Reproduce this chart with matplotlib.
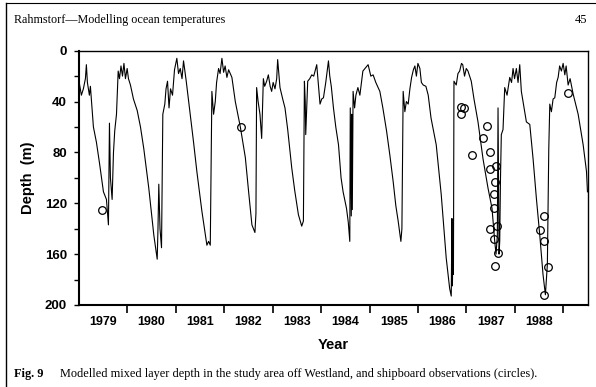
import numpy as np
import matplotlib.pyplot as plt
from matplotlib.lines import Line2D

# modelled mixed layer depth (year, depth in m)
years = [1979.00, 1979.015, 1979.056, 1979.097, 1979.139, 1979.159, 1979.180, 1979.221, 1979.242,
         1979.304, 1979.366, 1979.428, 1979.511, 1979.573, 1979.614, 1979.635, 1979.655, 1979.690,
         1979.718, 1979.744, 1979.780, 1979.815, 1979.842, 1979.873, 1979.904, 1979.934, 1979.965,
         1980.000, 1980.027, 1980.068, 1980.130, 1980.207, 1980.275, 1980.343, 1980.446, 1980.550,
         1980.620, 1980.636, 1980.653, 1980.678, 1980.709, 1980.736, 1980.777, 1980.802, 1980.833,
         1980.864, 1980.895, 1980.936, 1980.977, 1981.025, 1981.060, 1981.095, 1981.132, 1981.163,
         1981.219, 1981.302, 1981.370, 1981.438, 1981.541, 1981.645, 1981.680, 1981.715, 1981.748,
         1981.783, 1981.818, 1981.845, 1981.886, 1981.917, 1981.955, 1981.990, 1982.021, 1982.058,
         1982.093, 1982.161, 1982.231, 1982.335, 1982.438, 1982.506, 1982.574, 1982.636, 1982.657,
         1982.671, 1982.702, 1982.740, 1982.775, 1982.810, 1982.837, 1982.878, 1982.913, 1982.950,
         1982.981, 1983.012, 1983.050, 1983.085, 1983.105, 1983.153, 1983.209, 1983.256, 1983.312,
         1983.395, 1983.457, 1983.533, 1983.601, 1983.636, 1983.657, 1983.674, 1983.684, 1983.725,
         1983.767, 1983.808, 1983.849, 1983.911, 1983.942, 1983.979, 1984.014, 1984.050, 1984.097,
         1984.153, 1984.180, 1984.211, 1984.256, 1984.304, 1984.360, 1984.413, 1984.455, 1984.525,
         1984.562, 1984.593, 1984.603, 1984.624, 1984.634, 1984.645, 1984.661, 1984.692, 1984.719,
         1984.760, 1984.801, 1984.863, 1984.971, 1985.027, 1985.074, 1985.130, 1985.213, 1985.275,
         1985.351, 1985.419, 1985.488, 1985.543, 1985.591, 1985.647, 1985.668, 1985.694, 1985.729,
         1985.760, 1985.798, 1985.833, 1985.868, 1985.905, 1985.936, 1985.967, 1985.998, 1986.039,
         1986.070, 1986.108, 1986.163, 1986.211, 1986.269, 1986.376, 1986.479, 1986.582, 1986.653,
         1986.686, 1986.700, 1986.710, 1986.721, 1986.731, 1986.742, 1986.789, 1986.824, 1986.860,
         1986.897, 1986.923, 1986.960, 1986.996, 1987.031, 1987.099, 1987.155, 1987.238, 1987.341,
         1987.444, 1987.527, 1987.583, 1987.610, 1987.637, 1987.651, 1987.672, 1987.686, 1987.702,
         1987.719, 1987.754, 1987.789, 1987.837, 1987.893, 1987.930, 1987.961, 1987.992, 1988.029,
         1988.064, 1988.099, 1988.132, 1988.188, 1988.236, 1988.306, 1988.374, 1988.442, 1988.512,
         1988.579, 1988.628, 1988.669, 1988.698, 1988.719, 1988.752, 1988.787, 1988.822, 1988.860,
         1988.891, 1988.922, 1988.959, 1988.994, 1989.029, 1989.056, 1989.097, 1989.138, 1989.200,
         1989.304, 1989.407, 1989.476, 1989.496]
depth = [33, 26, 35, 30, 22, 11, 25, 35, 28,
         60, 72, 88, 111, 117, 137, 57, 100, 117,
         80, 63, 50, 16, 22, 12, 20, 10, 22,
         14, 22, 27, 38, 47, 60, 77, 108, 145,
         164, 140, 105, 140, 155, 50, 42, 30, 24,
         45, 30, 35, 15, 6, 18, 14, 22, 8,
         24, 50, 72, 95, 126, 153, 150, 153, 32,
         50, 40, 25, 14, 18, 6, 17, 12, 21,
         15, 21, 40, 60, 84, 111, 137, 143, 128,
         29, 40, 50, 69, 22, 28, 24, 19, 28,
         32, 25, 30, 22, 7, 29, 38, 45, 62,
         92, 110, 129, 138, 134, 24, 40, 66, 24,
         22, 19, 20, 11, 25, 42, 38, 37, 25,
         8, 20, 28, 45, 60, 74, 100, 111, 124,
         135, 150, 45, 130, 50, 125, 32, 45, 35,
         29, 35, 16, 11, 20, 19, 25, 32, 45,
         63, 82, 103, 122, 134, 150, 140, 32, 48,
         40, 42, 30, 21, 15, 12, 20, 10, 14,
         25, 27, 28, 35, 53, 74, 113, 163, 187,
         193, 132, 185, 150, 176, 24, 27, 18, 16,
         10, 11, 20, 14, 16, 24, 38, 56, 85,
         108, 124, 150, 160, 145, 45, 160, 150, 100,
         66, 62, 29, 35, 21, 25, 14, 22, 14,
         25, 11, 32, 45, 56, 58, 85, 116, 145,
         176, 192, 168, 77, 42, 48, 38, 37, 25,
         21, 12, 16, 10, 19, 12, 27, 22, 34,
         50, 74, 95, 111]

# shipboard observations (circles)
obs_years = [1979.483, 1982.347,
             1986.893, 1986.948, 1986.893, 1987.120, 1987.424, 1987.341, 1987.492, 1987.492,
             1987.603, 1987.583, 1987.568, 1987.568, 1987.492, 1987.636, 1987.568, 1987.651,
             1987.583,
             1989.097, 1988.599, 1988.525, 1988.608, 1988.676, 1988.599]
obs_depth = [125, 60,
             44, 45, 50, 82, 59, 69, 80, 93,
             91, 103, 113, 124, 140, 138, 148, 159,
             169,
             33, 130, 141, 150, 170, 192]

year_labels = ['1979', '1980', '1981', '1982', '1983', '1984', '1985', '1986', '1987', '1988']

plt.rcParams['font.family'] = ['Liberation Sans', 'DejaVu Sans']

fig = plt.figure(figsize=(5.96, 3.87), dpi=100)
ax = fig.add_axes([0.132, 0.212, 0.854, 0.657])

ax.plot(years, depth, color='black', lw=0.8)
ax.plot(obs_years, obs_depth, 'o', mfc='none', mec='black', ms=5.5, mew=0.9)

ax.set_xlim(1979.0, 1989.5)
ax.set_ylim(200, 0)

ax.set_xticks(np.arange(1980, 1990))
ax.set_xticklabels([])
ax.set_xticks(np.arange(1979.5, 1989.5), minor=True)
ax.set_xticklabels(year_labels, minor=True, fontweight='bold')
ax.tick_params(axis='x', which='major', direction='out', length=6, width=1.2)
ax.tick_params(axis='x', which='minor', length=0, pad=8, labelsize=9)

ax.set_yticks(np.arange(0, 201, 40))
ax.set_yticklabels([str(v) for v in range(0, 201, 40)], fontweight='bold')
ax.set_yticks(np.arange(20, 200, 40), minor=True)
ax.tick_params(axis='y', which='both', direction='out', length=3.5, width=1.0, labelsize=9.5, pad=5)

for s in ax.spines.values():
    s.set_linewidth(1.0)
ax.spines['left'].set_linewidth(1.5)
ax.spines['bottom'].set_linewidth(1.5)

ax.set_ylabel('Depth  (m)', fontsize=10.5, fontweight='bold', labelpad=7)
ax.set_xlabel('Year', fontsize=10.5, fontweight='bold', labelpad=7)

fig.text(0.024, 0.948, 'Rahmstorf\u2014Modelling ocean temperatures', family='Liberation Serif',
         fontsize=8.7, va='center', ha='left')
fig.text(0.985, 0.948, '45', family='Liberation Serif', fontsize=9, va='center', ha='right')
fig.text(0.024, 0.034, 'Fig. 9', family='Liberation Serif', fontsize=8.8, weight='bold',
         va='center', ha='left')
fig.text(0.100, 0.034, 'Modelled mixed layer depth in the study area off Westland, and shipboard '
         'observations (circles).', family='Liberation Serif', fontsize=8.8, va='center', ha='left')

# page edges of the scan
fig.add_artist(Line2D([0.010, 0.010], [0.0, 0.992], transform=fig.transFigure, color='black', lw=1.0))
fig.add_artist(Line2D([0.010, 1.0], [0.992, 0.992], transform=fig.transFigure, color='black', lw=0.8))

fig.savefig('out.png', dpi=100)
